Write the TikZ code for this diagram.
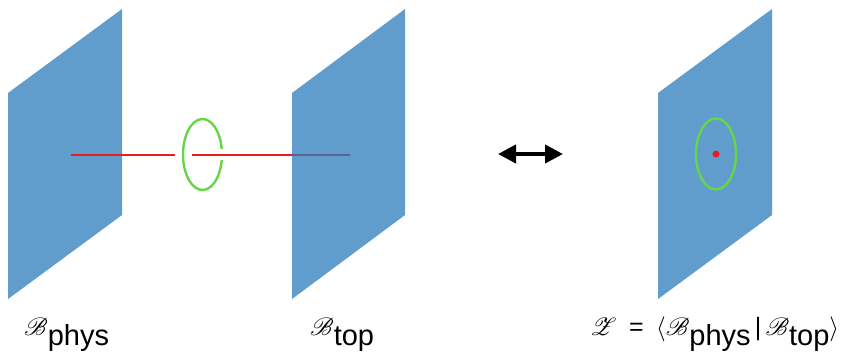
\documentclass[tikz,border=0pt]{standalone}
\usepackage{fontspec}
\setmainfont{Liberation Sans}
\setsansfont{Liberation Sans}
\usepackage{mathrsfs}
\usetikzlibrary{arrows.meta}

\definecolor{panelblue}{RGB}{43,124,187}
\definecolor{loopgreen}{RGB}{102,214,72}
\definecolor{wirered}{RGB}{232,30,30}
\tikzset{
  panel/.style={fill=panelblue, fill opacity=0.75},
  wire/.style={wirered, line width=2pt},
  loop/.style={loopgreen, line width=2.4pt},
  lbl/.style={anchor=base west, inner sep=0pt, font=\fontsize{25}{28}\selectfont},
}
\newcommand{\lowsub}[1]{\raisebox{-10pt}{\fontsize{29}{32}\selectfont #1}}

\begin{document}
\begin{tikzpicture}[x=1pt,y=-1pt]
  \useasboundingbox (0,0) rectangle (843,354);

  % left panel, the wire lies in front of it
  \fill[panel] (8,93) -- (122,9) -- (122,215) -- (8,299) -- cycle;
  \coordinate (wireL) at (71,155);
  \coordinate (gapL) at (175,155);
  \coordinate (gapR) at (192,155);
  \coordinate (wireR) at (350,155);
  \coordinate (loopc) at (202.5,154.5);
  \draw[wire] (wireL) -- (gapL);
  \draw[wire] (gapR) -- (wireR);
  % loop round the wire, broken where the wire passes in front
  \draw[loop] (loopc) ++(9:19.5 and 35.5)
    arc[start angle=9, end angle=351, x radius=19.5, y radius=35.5];

  % middle panel, the wire shows through it
  \fill[panel] (292,93) -- (405,9) -- (405,215) -- (292,299) -- cycle;

  \coordinate (eqL) at (498,154);
  \coordinate (eqR) at (563,154);
  \draw[line width=4pt, {Triangle[length=18pt,width=18pt]}-{Triangle[length=18pt,width=18pt]}]
    (eqL) -- (eqR);

  % right panel with the loop and the point
  \fill[panel] (658,93) -- (772,9) -- (772,215) -- (658,299) -- cycle;
  \coordinate (dot) at (716,154);
  \draw[loop] (dot) ellipse[x radius=20, y radius=35.5];
  \fill[wirered] (dot) circle(3.5);

  \node[lbl] (phys) at (24,335) {$\mathscr{B}$\lowsub{phys}};
  \node[lbl] (top) at (310,335) {$\mathscr{B}$\lowsub{top}};
  \node[lbl] (pair) at (590,335)
    {$\mathscr{Z}$\enspace=\enspace$\big\langle\mathscr{B}$\lowsub{phys}\,|\,$\mathscr{B}$\lowsub{top}$\big\rangle$};
\end{tikzpicture}
\end{document}
